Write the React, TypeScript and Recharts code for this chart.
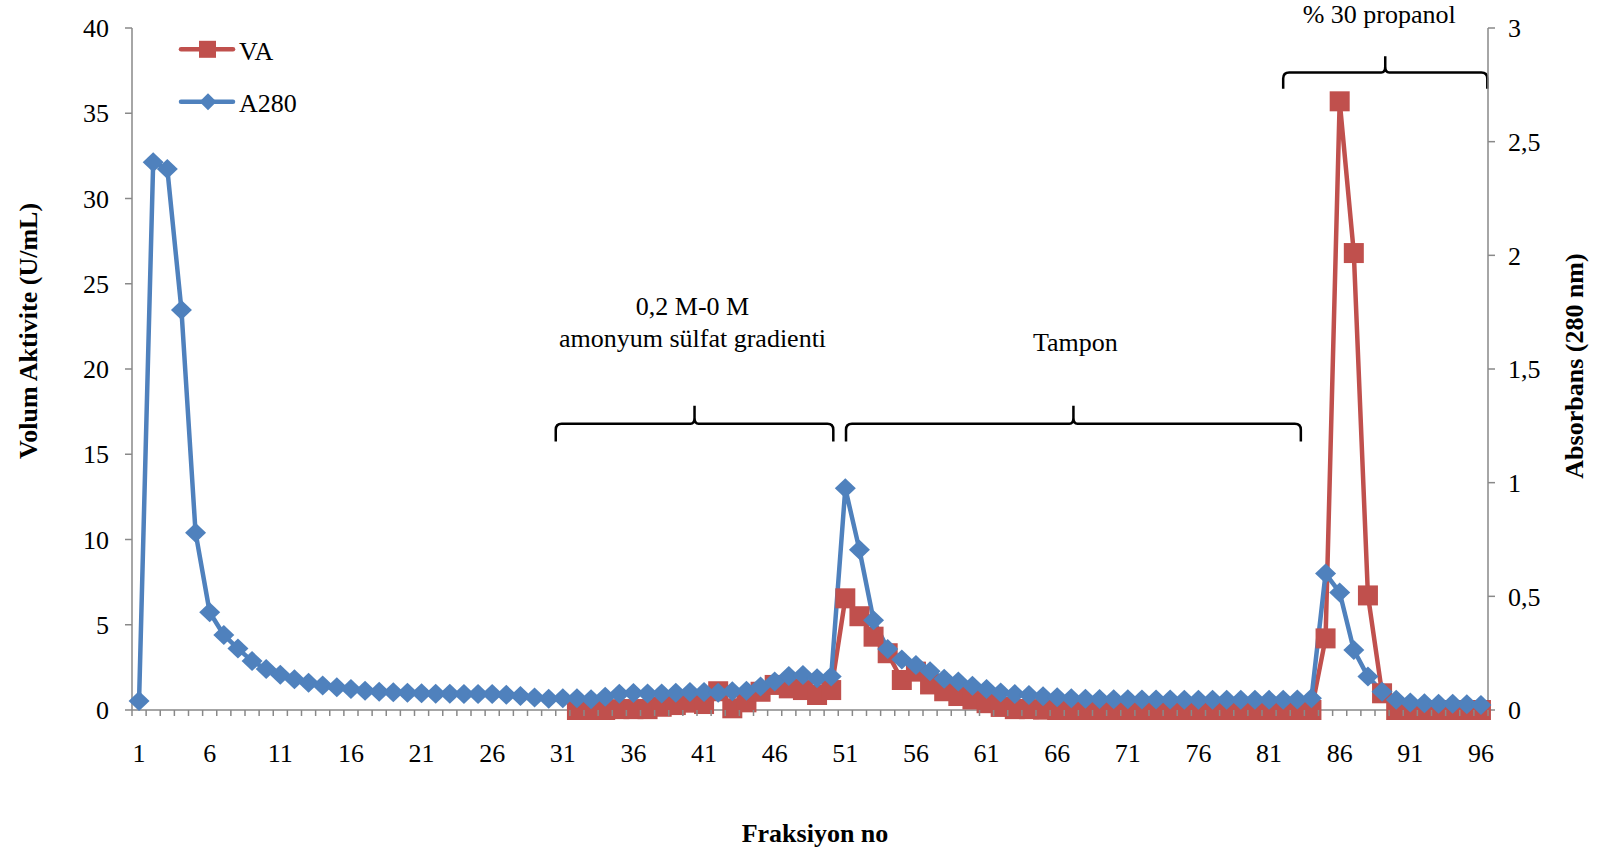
import { LineChart, Line, XAxis, YAxis, Legend, ReferenceArea } from 'recharts'

const FONT = '"Liberation Serif", "Times New Roman", serif'
const RED = '#C0504D'
const BLUE = '#4F81BD'
const AXIS = '#898989'

const fractions = [
	1, 2, 3, 4, 5, 6, 7, 8, 9, 10, 11, 12, 13, 14, 15, 16, 17, 18, 19, 20, 21, 22, 23, 24,
	25, 26, 27, 28, 29, 30, 31, 32, 33, 34, 35, 36, 37, 38, 39, 40, 41, 42, 43, 44, 45, 46, 47, 48,
	49, 50, 51, 52, 53, 54, 55, 56, 57, 58, 59, 60, 61, 62, 63, 64, 65, 66, 67, 68, 69, 70, 71, 72,
	73, 74, 75, 76, 77, 78, 79, 80, 81, 82, 83, 84, 85, 86, 87, 88, 89, 90, 91, 92, 93, 94, 95, 96
]

// volum aktivite (U/mL), measured from fraction 32 on
const va = [
	null, null, null, null, null, null, null, null, null, null, null, null, null, null, null, null,
	null, null, null, null, null, null, null, null, null, null, null, null, null, null, null,
	0, 0, 0, 0.05, 0.05, 0.05, 0.19, 0.29, 0.43, 0.35, 1.1, 0.1, 0.45, 1.07, 1.47, 1.27, 1.17, 0.88, 1.17,
	6.55, 5.5, 4.3, 3.33, 1.76, 2.25, 1.5, 1.1, 0.82, 0.62, 0.4, 0.18, 0.05, 0.05, 0.02,
	0, 0, 0, 0, 0, 0, 0, 0, 0, 0, 0, 0, 0, 0, 0, 0, 0, 0, 0,
	4.2, 35.7, 26.8, 6.72, 0.98, 0, 0, 0, 0, 0, 0, 0
]

// absorbans 280 nm
const a280 = [
	0.04, 2.41, 2.38, 1.76, 0.78, 0.43, 0.33, 0.27, 0.215, 0.18, 0.155, 0.135, 0.12, 0.108, 0.1, 0.092,
	0.085, 0.08, 0.078, 0.076, 0.074, 0.072, 0.071, 0.07, 0.07, 0.07, 0.067, 0.062, 0.055, 0.05, 0.052,
	0.052, 0.047, 0.058, 0.072, 0.075, 0.073, 0.073, 0.076, 0.079, 0.079, 0.076, 0.082, 0.085, 0.103,
	0.125, 0.15, 0.154, 0.14, 0.147, 0.975, 0.705, 0.395, 0.268, 0.222, 0.198, 0.17, 0.137, 0.125,
	0.107, 0.092, 0.077, 0.07, 0.066, 0.06, 0.056, 0.052, 0.049, 0.048, 0.047, 0.047, 0.046, 0.046,
	0.046, 0.045, 0.045, 0.045, 0.045, 0.045, 0.045, 0.045, 0.045, 0.046, 0.052, 0.6, 0.517, 0.264,
	0.147, 0.08, 0.045, 0.033, 0.03, 0.028, 0.027, 0.025, 0.022
]

const seriesOrder = ['VA', 'A280']
const leftTicks = [0, 5, 10, 15, 20, 25, 30, 35, 40]
const rightTicks = [0, 0.5, 1, 1.5, 2, 2.5, 3]
const labelTicks = [1, 6, 11, 16, 21, 26, 31, 36, 41, 46, 51, 56, 61, 66, 71, 76, 81, 86, 91, 96]
const boundaryTicks = fractions.map((f) => f - 0.5).concat([96.5])

// brackets above the elution steps: fraction range, left-axis height range, caption lines
const braces = [
	{ from: 30.5, to: 50.15, y1: 15.75, y2: 17.84, lines: ['0,2 M-0 M', 'amonyum sülfat gradienti'], dx: -2, dy: -91 },
	{ from: 51.05, to: 83.25, y1: 15.75, y2: 17.84, lines: ['Tampon'], dx: 2, dy: -55 },
	{ from: 82, to: 96.45, y1: 36.43, y2: 38.34, lines: ['% 30 propanol'], dx: -6, dy: -33 }
]

const data = fractions.map((f, i) => ({ f, VA: va[i], A280: a280[i] }))

const Square = (props: any) => {
	const { cx, cy, value, index } = props
	if (cx == null || cy == null || value == null) return <g key={`s${index}`} />
	return <rect key={`s${index}`} x={cx - 10} y={cy - 10} width={20} height={20} fill={RED} />
}

const Diamond = (props: any) => {
	const { cx, cy, value, index } = props
	if (cx == null || cy == null || value == null) return <g key={`d${index}`} />
	return (
		<polygon
			key={`d${index}`}
			points={`${cx},${cy - 10} ${cx + 10.5},${cy} ${cx},${cy + 10} ${cx - 10.5},${cy}`}
			fill={BLUE}
		/>
	)
}

const XTick = (props: any) => {
	const { x, y, payload } = props
	const v = payload.value
	if (Number.isInteger(v)) {
		return (
			<text x={x} y={y + 52} textAnchor="middle" fontSize={26} fontFamily={FONT} fill="#000">
				{v}
			</text>
		)
	}
	return <line x1={x} y1={y} x2={x} y2={y + 6} stroke={AXIS} strokeWidth={1.5} />
}

const Brace = (props: any) => {
	const { x, y, width, height, b } = props
	const x0 = x
	const x1 = x + width
	const yTip = y
	const yEnd = y + height
	const yLine = y + height / 2
	const mid = x + width / 2
	const r = 6
	const d = [
		`M ${x0} ${yEnd} L ${x0} ${yLine + r} Q ${x0} ${yLine} ${x0 + r} ${yLine}`,
		`L ${mid - 4} ${yLine} Q ${mid} ${yLine} ${mid} ${yLine - 6} L ${mid} ${yTip}`,
		`M ${mid} ${yTip} L ${mid} ${yLine - 6} Q ${mid} ${yLine} ${mid + 4} ${yLine}`,
		`L ${x1 - r} ${yLine} Q ${x1} ${yLine} ${x1} ${yLine + r} L ${x1} ${yEnd}`
	].join(' ')
	return (
		<g>
			<path d={d} fill="none" stroke="#000" strokeWidth={2.5} />
			{b.lines.map((t: string, i: number) => (
				<text
					key={t}
					x={mid + b.dx}
					y={yTip + b.dy + i * 32}
					textAnchor="middle"
					fontSize={26}
					fontFamily={FONT}
					fill="#000"
				>
					{t}
				</text>
			))}
		</g>
	)
}

const LegendBox = (props: any) => {
	const items = [...(props.payload || [])].sort(
		(a: any, b: any) => seriesOrder.indexOf(a.value) - seriesOrder.indexOf(b.value)
	)
	return (
		<svg width={320} height={130} style={{ overflow: 'visible' }}>
			{items.map((entry: any, i: number) => {
				const y = 49.3 + i * 52.4
				const isVA = entry.value === 'VA'
				return (
					<g key={entry.value}>
						<line x1={181} y1={y} x2={233} y2={y} stroke={entry.color} strokeWidth={4.5} strokeLinecap="round" />
						{isVA ? (
							<rect x={199} y={y - 8.5} width={17} height={17} fill={RED} />
						) : (
							<polygon points={`208,${y - 8.5} 216.5,${y} 208,${y + 8.5} 199.5,${y}`} fill={BLUE} />
						)}
						<text x={239} y={y + 10.5} fontSize={26} fontFamily={FONT} fill="#000">
							{entry.value}
						</text>
					</g>
				)
			})}
		</svg>
	)
}

const LeftTitle = (props: any) => {
	const { viewBox } = props
	const cx = viewBox.x + 28.5
	const cy = 331
	return (
		<text
			x={cx}
			y={cy}
			transform={`rotate(-90, ${cx}, ${cy})`}
			textAnchor="middle"
			dominantBaseline="central"
			fontSize={26}
			fontWeight="bold"
			fontFamily={FONT}
			fill="#000"
		>
			Volum Aktivite (U/mL)
		</text>
	)
}

const RightTitle = (props: any) => {
	const { viewBox } = props
	const cx = viewBox.x + 86.5
	const cy = 366
	return (
		<text
			x={cx}
			y={cy}
			transform={`rotate(-90, ${cx}, ${cy})`}
			textAnchor="middle"
			dominantBaseline="central"
			fontSize={26}
			fontWeight="bold"
			fontFamily={FONT}
			fill="#000"
		>
			Absorbans (280 nm)
		</text>
	)
}

const BottomTitle = (props: any) => {
	const { viewBox } = props
	return (
		<text
			x={viewBox.x + viewBox.width / 2 + 5}
			y={viewBox.y + 132}
			textAnchor="middle"
			fontSize={26}
			fontWeight="bold"
			fontFamily={FONT}
			fill="#000"
		>
			Fraksiyon no
		</text>
	)
}

export default function App() {
	return (
		<div style={{ position: 'absolute', left: 0, top: 0, width: 1598, height: 854, background: '#fff' }}>
			<LineChart width={1598} height={854} data={data} margin={{ top: 28, right: 0, bottom: 0, left: 0 }}>
				<XAxis
					type="number"
					dataKey="f"
					domain={[0.5, 96.5]}
					ticks={[...boundaryTicks, ...labelTicks]}
					interval={0}
					tick={<XTick />}
					tickLine={false}
					tickSize={0}
					tickMargin={0}
					axisLine={{ stroke: AXIS, strokeWidth: 1.5 }}
					height={144}
					label={{ content: BottomTitle }}
				/>
				<YAxis
					yAxisId="l"
					orientation="left"
					domain={[0, 40]}
					ticks={leftTicks}
					interval={0}
					width={132}
					tickSize={7}
					tickMargin={16}
					tickLine={{ stroke: AXIS, strokeWidth: 1.5 }}
					axisLine={{ stroke: AXIS, strokeWidth: 1.5 }}
					tick={{ fill: '#000', fontSize: 26, fontFamily: FONT }}
					label={{ content: LeftTitle }}
				/>
				<YAxis
					yAxisId="r"
					orientation="right"
					domain={[0, 3]}
					ticks={rightTicks}
					interval={0}
					width={110}
					tickSize={7}
					tickMargin={13}
					tickFormatter={(v: number) => String(v).replace('.', ',')}
					tickLine={{ stroke: AXIS, strokeWidth: 1.5 }}
					axisLine={{ stroke: AXIS, strokeWidth: 1.5 }}
					tick={{ fill: '#000', fontSize: 26, fontFamily: FONT }}
					label={{ content: RightTitle }}
				/>
				{braces.map((b) => (
					<ReferenceArea
						key={b.lines[0]}
						yAxisId="l"
						x1={b.from}
						x2={b.to}
						y1={b.y1}
						y2={b.y2}
						ifOverflow="visible"
						shape={(p: any) => <Brace {...p} b={b} />}
					/>
				))}
				<Line
					yAxisId="l"
					type="linear"
					dataKey="VA"
					stroke={RED}
					strokeWidth={4.5}
					strokeLinejoin="round"
					dot={Square}
					activeDot={false}
					isAnimationActive={false}
				/>
				<Line
					yAxisId="r"
					type="linear"
					dataKey="A280"
					stroke={BLUE}
					strokeWidth={4.5}
					strokeLinejoin="round"
					dot={Diamond}
					activeDot={false}
					isAnimationActive={false}
				/>
				<Legend
					layout="horizontal"
					verticalAlign="middle"
					align="center"
					content={LegendBox}
					wrapperStyle={{ left: 0, top: 0, width: 320, height: 130 }}
				/>
			</LineChart>
		</div>
	)
}
